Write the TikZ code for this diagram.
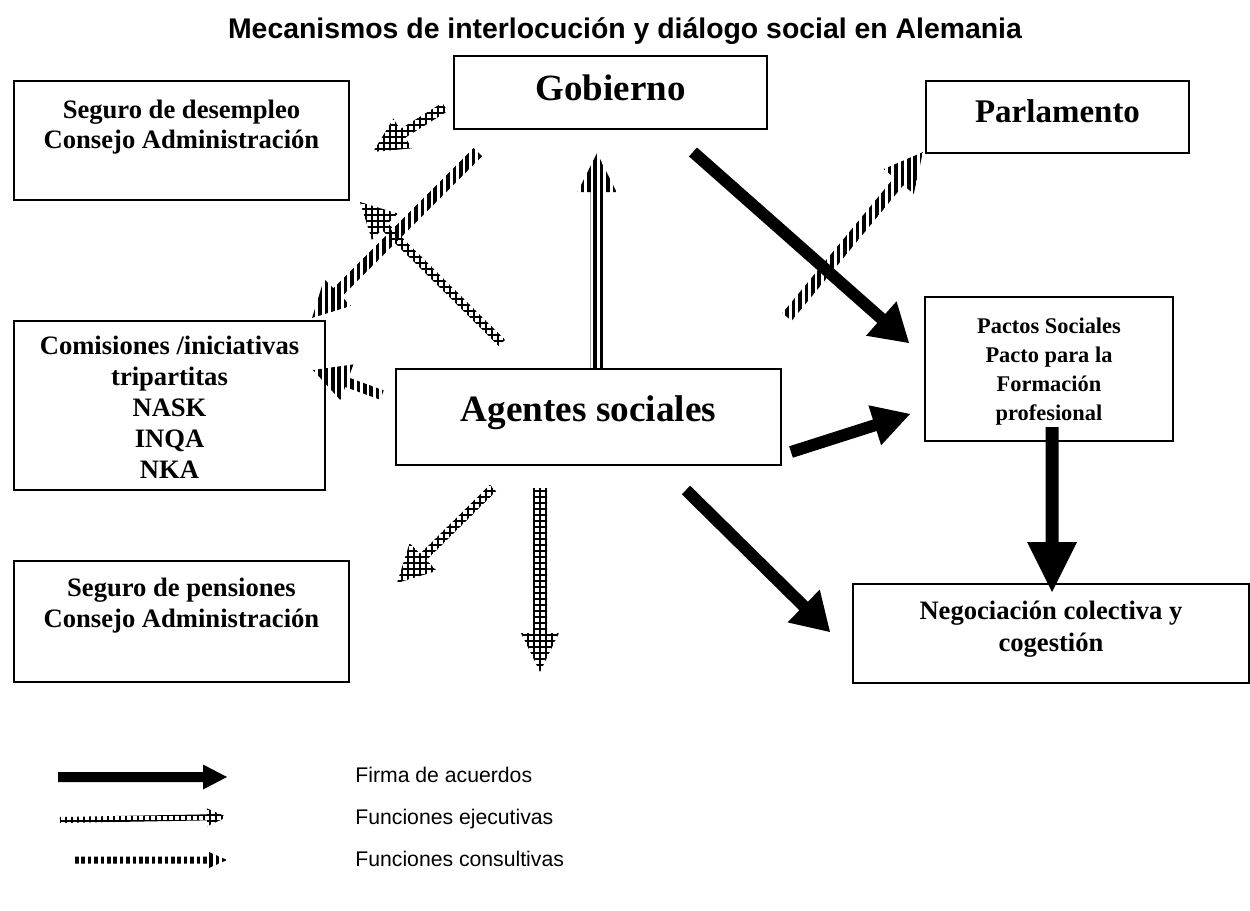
\documentclass[tikz,border=0pt]{standalone}
\usepackage{fontspec}
\setmainfont{Liberation Serif}
\newfontfamily\arialf{Liberation Sans}
\usetikzlibrary{patterns.meta}

\tikzset{
  box/.style={draw, line width=1pt, inner sep=0pt, anchor=north west},
  firma/.style={fill=black},
  ejec/.style={pattern={Hatch[angle=0,distance=3pt,line width=0.8pt]}, pattern color=black},
  consul/.style={pattern={Lines[angle=90,distance=3.2pt,line width=1.8pt]}, pattern color=black},
  legtext/.style={anchor=base west, font=\arialf\fontsize{10.6}{12.5}\selectfont, inner sep=0pt},
}

\newdimen\bxa \newdimen\bya \newdimen\bxb \newdimen\byb
% #1 style, #2 from, #3 to, #4 shaft width px, #5 head width px, #6 head length px
\newcommand\blockarrow[6]{%
  \pgfextractx{\bxa}{\pgfpointanchor{#2}{center}}%
  \pgfextracty{\bya}{\pgfpointanchor{#2}{center}}%
  \pgfextractx{\bxb}{\pgfpointanchor{#3}{center}}%
  \pgfextracty{\byb}{\pgfpointanchor{#3}{center}}%
  \pgfmathsetmacro\bang{atan2(\byb-\bya,\bxb-\bxa)}%
  \pgfmathsetmacro\blen{veclen(\bxb-\bxa,\byb-\bya)}%
  \pgfmathsetmacro\bneck{\blen-#6/2}%
  \pgfmathsetmacro\bsw{#4/4}%
  \pgfmathsetmacro\bhw{#5/4}%
  \path[#1, shift={(\the\bxa,\the\bya)}, rotate=\bang]
    (0pt,-\bsw pt) -- (\bneck pt,-\bsw pt) -- (\bneck pt,-\bhw pt) -- (\blen pt,0pt)
    -- (\bneck pt,\bhw pt) -- (\bneck pt,\bsw pt) -- (0pt,\bsw pt) -- cycle;%
}

\begin{document}
\begin{tikzpicture}[x=0.5pt,y=-0.5pt]
\useasboundingbox (0,0) rectangle (1250,911);

% title
\node[font=\arialf\bfseries\fontsize{14.2}{17}\selectfont] (title) at (625,31)
  {Mecanismos de interlocución y diálogo social en Alemania};

% boxes
\node[box] (gob) at (453,55) {\parbox[t][36.5pt][t]{156.5pt}{\centering\fontsize{18.5}{21}\selectfont\bfseries\rule{0pt}{22pt}Gobierno}};
\node[box] (par) at (925,80) {\parbox[t][36pt][t]{131.5pt}{\centering\fontsize{16.5}{18}\selectfont\bfseries\rule{0pt}{20.5pt}Parlamento}};
\node[box] (des) at (13,80) {\parbox[t][59.5pt][t]{167.5pt}{\centering\fontsize{13.3}{15}\selectfont\bfseries\rule{0pt}{18.5pt}Seguro de desempleo\\Consejo Administración}};
\node[box] (com) at (13,320) {\parbox[t][84.5pt][t]{155.5pt}{\centering\fontsize{13.3}{15.5}\selectfont\bfseries\rule{0pt}{16.5pt}Comisiones /iniciativas\\tripartitas\\NASK\\INQA\\NKA}};
\node[box] (pen) at (13,560) {\parbox[t][60.5pt][t]{167.5pt}{\centering\fontsize{13.3}{15.5}\selectfont\bfseries\rule{0pt}{17.5pt}Seguro de pensiones\\Consejo Administración}};
\node[box] (age) at (395,368) {\parbox[t][48pt][t]{192.5pt}{\centering\fontsize{18.6}{21}\selectfont\bfseries\rule{0pt}{26pt}Agentes sociales}};
\node[box] (pac) at (924,296) {\parbox[t][72pt][t]{124pt}{\centering\fontsize{11.2}{14.5}\selectfont\bfseries\rule{0pt}{18pt}Pactos Sociales\\Pacto para la\\Formación\\profesional}};
\node[box] (neg) at (852,583) {\parbox[t][49.5pt][t]{198pt}{\centering\fontsize{13.3}{16}\selectfont\bfseries\rule{0pt}{17.5pt}Negociación colectiva y\\cogestión}};

% arrow end points
\coordinate (gob-pac-a) at (693,152);  \coordinate (gob-pac-b) at (909,343);
\coordinate (age-pac-a) at (791,452);  \coordinate (age-pac-b) at (910,414);
\coordinate (age-neg-a) at (686,490);  \coordinate (age-neg-b) at (830,632);
\coordinate (pac-neg-a) at (1052,427); \coordinate (pac-neg-b) at (1052,592);
\coordinate (age-gob-a) at (597,368);  \coordinate (age-gob-b) at (597,153);
\coordinate (gob-com-a) at (478,152);  \coordinate (gob-com-b) at (312,318);
\coordinate (age-com-a) at (382,395);  \coordinate (age-com-b) at (313,370);
\coordinate (age-par-a) at (787,317);  \coordinate (age-par-b) at (923,152);
\coordinate (age-des-a) at (502,343);  \coordinate (age-des-b) at (360,202);
\coordinate (gob-des-a) at (445,107);  \coordinate (gob-des-b) at (373,152);
\coordinate (age-pen-a) at (493,488);  \coordinate (age-pen-b) at (397,583);
\coordinate (age-down-a) at (540,488); \coordinate (age-down-b) at (540,672);

% firma de acuerdos
\blockarrow{firma}{gob-pac-a}{gob-pac-b}{12}{46}{37}
\blockarrow{firma}{age-pac-a}{age-pac-b}{12}{42}{37}
\blockarrow{firma}{age-neg-a}{age-neg-b}{12}{46}{37}
\blockarrow{firma}{pac-neg-a}{pac-neg-b}{13}{50}{50}
% funciones consultivas
\blockarrow{consul}{age-gob-a}{age-gob-b}{13}{39}{39}
\blockarrow{consul}{gob-com-a}{gob-com-b}{12}{38}{36}
\blockarrow{consul}{age-com-a}{age-com-b}{10}{38}{36}
\blockarrow{consul}{age-par-a}{age-par-b}{12}{39}{38}
% funciones ejecutivas
\blockarrow{ejec}{age-des-a}{age-des-b}{9}{37}{35}
\blockarrow{ejec}{gob-des-a}{gob-des-b}{10}{35}{35}
\blockarrow{ejec}{age-pen-a}{age-pen-b}{9}{39}{37}
\blockarrow{ejec}{age-down-a}{age-down-b}{14}{38}{39}

% legend
\coordinate (l1a) at (58,777);  \coordinate (l1b) at (227,777);
\coordinate (l2a) at (60,820);  \coordinate (l2b) at (227,817);
\coordinate (l3a) at (75,860);  \coordinate (l3b) at (227,860);
\blockarrow{firma}{l1a}{l1b}{10}{25}{24}
\blockarrow{ejec}{l2a}{l2b}{6}{18}{20}
\blockarrow{consul}{l3a}{l3b}{7}{16}{18}
\node[legtext] (t1) at (355,782) {Firma de acuerdos};
\node[legtext] (t2) at (355,824) {Funciones ejecutivas};
\node[legtext] (t3) at (355,866) {Funciones consultivas};
\end{tikzpicture}
\end{document}
